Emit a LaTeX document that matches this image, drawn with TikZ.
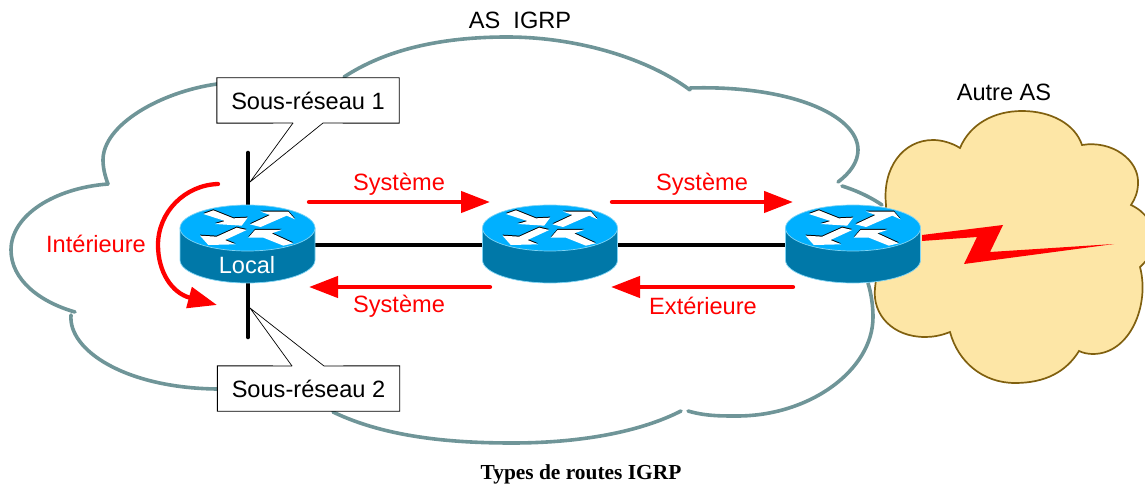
\documentclass[tikz,border=0pt]{standalone}
\usepackage{fontspec}
\setmainfont{Liberation Sans}
\newfontfamily\captionserif{Liberation Serif}
\usetikzlibrary{arrows.meta}
\definecolor{asgrey}{HTML}{6F9598}
\definecolor{sandfill}{HTML}{FDE6A6}
\definecolor{sandline}{HTML}{80600F}
\definecolor{routertop}{HTML}{00B0FF}
\definecolor{routerside}{HTML}{0078A8}
\definecolor{routerrim}{HTML}{80D4F4}
\tikzset{
  x=1pt,y=-1pt,
  txt/.style={inner sep=0pt,font=\fontsize{23.6}{28}\selectfont},
  redtxt/.style={txt,text=red},
  asline/.style={draw=asgrey,line width=3.6pt,line cap=round},
  wire/.style={draw=black,line width=4.6pt,line cap=round},
  flow/.style={draw=red,line width=4.3pt,line cap=round,-{Triangle[length=29pt,width=21pt]}},
  subnet/.style={txt,fill=white,minimum width=182pt,minimum height=45pt},
  routerslot/.style={inner sep=0pt,minimum width=135pt,minimum height=78pt},
  routericon/.pic={
    \path[fill=routerside,draw=routerrim,line width=.7pt] (-67.5,-17) -- (-67.5,15) arc[x radius=67.5,y radius=23,start angle=180,end angle=0] -- (67.5,-17) -- cycle;
    \path[fill=routertop,draw=routerrim,line width=.7pt] (0,-17) ellipse[x radius=67.5,y radius=23];
    \begin{scope}[shift={(-77.5,-50)},scale=1/3]
      \foreach \ink/\dy in {black/-3,white/0}{
        \begin{scope}[shift={(0,\dy)}]
          \fill[\ink] (100,57) -- (130,46) -- (190,70) -- (233,68) -- (215,92) -- (135,87) -- (165,78) -- cycle;
          \fill[\ink] (240,88) -- (300,60) -- (272,50) -- (355,50) -- (375,73) -- (350,62) -- (272,96) -- cycle;
          \fill[\ink] (90,122) -- (115,150) -- (197,148) -- (165,135) -- (230,105) -- (200,98) -- (140,125) -- cycle;
          \fill[\ink] (235,128) -- (255,105) -- (335,105) -- (305,115) -- (370,145) -- (340,152) -- (280,128) -- cycle;
        \end{scope}
      }
    \end{scope}
  }
}
\begin{document}
\begin{tikzpicture}
\useasboundingbox (0,0) rectangle (1145,486);
% AS cloud
\draw[asline] (217,84) .. controls (160,92) and (103,125) .. (103,160) .. controls (103,168) and (105,176) .. (108,184);
\draw[asline] (108,184) .. controls (55,188) and (11,215) .. (11,250) .. controls (11,280) and (40,302) .. (75,312);
\draw[asline] (71,315) .. controls (68,350) and (125,388) .. (217,389);
\draw[asline] (333,412) .. controls (385,437) and (450,443) .. (512,443) .. controls (580,443) and (640,432) .. (681,411);
\draw[asline] (688,411) .. controls (705,416) and (720,416) .. (737,416) .. controls (810,416) and (873,370) .. (873,317) .. controls (873,305) and (871,293) .. (868,283);
\draw[asline] (842,186) .. controls (858,191) and (872,198) .. (882,205);
\draw[asline] (838,182) .. controls (850,173) and (858,162) .. (858,150) .. controls (858,115) and (790,85) .. (690,88);
\draw[asline] (690,90) .. controls (650,60) and (580,37) .. (507,37) .. controls (440,37) and (385,50) .. (344,77);
% other AS cloud
\path[fill=sandfill,draw=sandline,line width=1.7pt,line join=miter]
  (886,205) .. controls (882,168) and (903,140) .. (933,140) .. controls (942,140) and (952,143) .. (960,148)
  .. controls (970,124) and (994,111) .. (1022,111) .. controls (1051,111) and (1075,124) .. (1082,145)
  .. controls (1112,140) and (1139,160) .. (1138,183) .. controls (1138,192) and (1135,199) .. (1131,205)
  .. controls (1146,212) and (1154,225) .. (1154,238) .. controls (1154,250) and (1148,260) .. (1140,267)
  .. controls (1150,305) and (1130,354) .. (1093,354) .. controls (1088,354) and (1083,353) .. (1079,351)
  .. controls (1066,372) and (1045,383) .. (1015,383) .. controls (983,383) and (958,362) .. (950,332)
  .. controls (940,336) and (932,337) .. (925,337) .. controls (893,337) and (872,315) .. (875,288)
  .. controls (878,260) and (885,230) .. (886,205) -- cycle;
% anchors
\node[routerslot] (r1) at (247.5,245) {};
\node[routerslot] (r2) at (550,245) {};
\node[routerslot] (r3) at (853,245) {};
\coordinate (segtop) at (248,153);
\coordinate (segbot) at (248,337);
\coordinate (tip1) at (250,182);
\coordinate (tip2) at (250,308);
% wires
\draw[wire] (segtop) -- (segbot);
\draw[wire,line cap=butt] (r1) -- (r2);
\draw[wire,line cap=butt] (r2) -- (r3);
% routers
\pic at (r1) {routericon};
\pic at (r2) {routericon};
\pic at (r3) {routericon};
\node[txt,text=white] (localtxt) at (247,265) {Local};
% subnet boxes
\node[subnet] (b1) at (308,100.5) {Sous-réseau 1};
\node[subnet] (b2) at (308.5,388.5) {Sous-réseau 2};
\coordinate (b1l) at (293,123);
\coordinate (b1r) at (323,123);
\coordinate (b2l) at (292,366);
\coordinate (b2r) at (324,366);
\draw[black,line width=.9pt,line join=miter] (b1l) -- (b1.south west) -- (b1.north west) -- (b1.north east) -- (b1.south east) -- (b1r);
\draw[black,line width=.9pt,line join=miter] (b2l) -- (b2.north west) -- (b2.south west) -- (b2.south east) -- (b2.north east) -- (b2r);
\draw[black,line width=.7pt] (b1l) -- (tip1) -- (b1r);
\draw[black,line width=.7pt] (b2l) -- (tip2) -- (b2r);
% flows
\coordinate (f1a) at (309,202); \coordinate (f1b) at (490,202);
\coordinate (f2a) at (612,202); \coordinate (f2b) at (793,202);
\coordinate (f3a) at (490,287); \coordinate (f3b) at (309,287);
\coordinate (f4a) at (793,287); \coordinate (f4b) at (611,287);
\coordinate (ia) at (218,184); \coordinate (ib) at (217,305);
\draw[flow] (f1a) -- (f1b);
\draw[flow] (f2a) -- (f2b);
\draw[flow] (f3a) -- (f3b);
\draw[flow] (f4a) -- (f4b);
\draw[flow] (ia) .. controls (185,185) and (158,212) .. (158,245) .. controls (158,272) and (172,293) .. (ib);
% lightning
\fill[red] (922,235) -- (1003,225) -- (990,252) -- (1114,244) -- (964,264) -- (977,237) -- (922,241) -- cycle;
% labels
\node[redtxt] (s1) at (399,184.5) {Système};
\node[redtxt] (s2) at (702,184.5) {Système};
\node[redtxt] (s3) at (399,306.5) {Système};
\node[redtxt] (e1) at (703,305.5) {Extérieure};
\node[redtxt] (i1) at (96,244) {Intérieure};
\node[txt] (asl) at (520,20) {AS\ \ IGRP};
\node[txt] (aul) at (1004,92) {Autre AS};
\node[inner sep=0pt,font=\captionserif\bfseries\fontsize{21.4}{25}\selectfont] (cap) at (581,474) {Types de routes IGRP};
\end{tikzpicture}
\end{document}
